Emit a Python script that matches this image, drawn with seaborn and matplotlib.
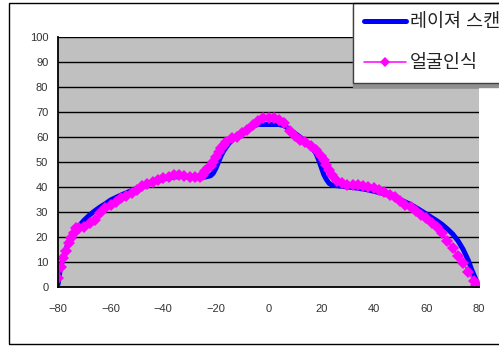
import matplotlib
matplotlib.use("Agg")
import matplotlib.pyplot as plt
import matplotlib.patches as mpatches
import seaborn as sns
import pandas as pd

# ---- data ----
laser_x = [-80, -79, -78, -77, -76, -74, -72, -70, -68, -66, -64, -62, -60, -58, -56, -54,
           -52, -50, -48, -46, -44, -42, -40, -38, -36, -34, -32, -30, -28, -26, -24, -22,
           -21, -20, -19, -18, -17, -16, -15, -14, -12, -10, -8, -6, -4, -2, 0, 2, 4, 6,
           8, 10, 12, 14, 16, 17, 18, 19, 20, 21, 22, 23, 24, 26, 28, 30, 32, 34, 36, 38,
           40, 42, 44, 46, 48, 50, 52, 54, 56, 58, 60, 62, 64, 66, 68, 70, 72, 74, 76, 77,
           78, 79, 80]
laser_y = [1, 8, 11.5, 15, 18, 21.5, 24.5, 26.8, 28.8, 30.5, 32, 33.3, 34.8, 35.8, 36.8, 37.7,
           38.6, 39.4, 40.2, 41, 41.8, 42.5, 43.2, 43.5, 44, 44.2, 44.2, 44, 43.8, 43.8, 44, 44.5,
           45.5, 47.5, 50, 52.5, 54.5, 56, 57.5, 58.5, 60.5, 62, 63.5, 64.3, 65, 65, 65, 65, 65, 64.5,
           63, 61.5, 60, 58, 56, 55, 53.5, 51, 48, 45, 43, 41.5, 40.8, 40.5, 40.3, 40, 39.8, 39.5, 39.2, 38.8,
           38.3, 37.8, 37.3, 36.6, 35.8, 35, 34, 33, 31.8, 30.5, 29.2, 27.8, 26.5, 25, 23.2, 21.2, 18.5, 15, 10.5, 7.5,
           5, 2.5, 0]

face_x = [-80, -79, -78, -77, -76, -75, -74, -73, -72, -70, -68, -66, -64, -62, -60, -58, -56,
          -54, -52, -50, -48, -46, -44, -42, -40, -38, -36, -34, -32, -30, -28, -26, -25, -24,
          -23, -22, -21, -20, -19, -18, -17, -16, -14, -12, -10, -8, -6, -4, -2, 0, 2, 4, 6, 8,
          10, 12, 14, 16, 18, 20, 21, 22, 23, 24, 26, 28, 30, 32, 34, 36, 38, 40, 42, 44, 46,
          48, 50, 52, 54, 56, 58, 60, 62, 64, 66, 68, 70, 72, 74, 76, 78, 79, 80]
face_y = [3.5, 8, 11.5, 14.5, 17.5, 19.5, 21.5, 23.5, 23.5, 24, 25.5, 27, 29.5, 31.5, 33, 34.2, 35.5,
          36.5, 37.8, 39, 40.5, 41.2, 42, 42.8, 43.8, 44.2, 44.8, 44.8, 44.3, 44, 44, 44.2, 45, 46.5,
          47.5, 48.5, 50, 52, 54, 55.5, 57, 58, 59.5, 60, 61.5, 63, 65, 66.5, 67.5, 67.5, 67.5, 67, 65.5, 62.5,
          60.5, 59, 58, 56.5, 55, 52.5, 51, 49, 47, 45, 42.5, 41.5, 41, 41, 40.8, 40.5, 40.2, 39.5, 38.8, 38, 37,
          36, 34.5, 33, 32, 30.5, 29, 27.5, 25.5, 24, 21.5, 18.5, 15.5, 12.5, 9.5, 6, 2.5, 1, 0]

x_ticks = [-80, -60, -40, -20, 0, 20, 40, 60, 80]
y_ticks = [0, 10, 20, 30, 40, 50, 60, 70, 80, 90, 100]
series_names = ["레이져 스캔", "얼굴인식"]

laser = pd.DataFrame({"x": laser_x, "y": laser_y})
face = pd.DataFrame({"x": face_x, "y": face_y})

sns.set_theme(style="white")
plt.rcParams["font.family"] = ["Liberation Sans", "Noto Sans CJK KR"]
plt.rcParams["axes.unicode_minus"] = True

fig = plt.figure(figsize=(4.99, 3.46), dpi=100)
fig.patch.set_facecolor("white")
ax = fig.add_axes([58 / 499, 1 - 287 / 346, (479 - 58) / 499, (287 - 37) / 346])
ax.set_facecolor("#C0C0C0")

for yt in y_ticks[1:]:
    ax.axhline(yt, color="black", lw=1.0, zorder=1)

sns.lineplot(data=laser, x="x", y="y", ax=ax, color="#0000FF", lw=3.6,
             sort=False, estimator=None, label=series_names[0], zorder=3)
sns.lineplot(data=face, x="x", y="y", ax=ax, color="#FF00FF", lw=1.3,
             marker="D", markersize=6, markeredgewidth=0, sort=False,
             estimator=None, label=series_names[1], zorder=4)

ax.set_xlim(-80, 80)
ax.set_ylim(0, 100)
ax.set_xticks(x_ticks)
ax.set_yticks(y_ticks)
ax.set_xlabel("")
ax.set_ylabel("")
for s in ["top", "right"]:
    ax.spines[s].set_visible(False)
for s in ["left", "bottom"]:
    ax.spines[s].set_color("black")
    ax.spines[s].set_linewidth(1.3)
    ax.spines[s].set_zorder(5)
ax.tick_params(axis="x", direction="in", length=4, width=1, color="black",
               pad=12, labelsize=8, labelcolor="#333333")
ax.tick_params(axis="y", length=0, pad=7, labelsize=8, labelcolor="#333333")

leg = ax.legend(loc="upper left", bbox_to_anchor=(353 / 499, 1 - 3 / 346),
                bbox_transform=fig.transFigure, borderaxespad=0, frameon=True,
                fancybox=False, shadow={"color": "#909090", "alpha": 1.0, "ox": 0, "oy": -3},
                prop={"size": 13.3}, handlelength=2.25, handletextpad=0.25,
                labelspacing=1.3, borderpad=0.6)
leg.get_frame().set_edgecolor("#404040")
leg.get_frame().set_linewidth(1.0)
leg.get_frame().set_facecolor("white")
for t in leg.get_texts():
    t.set_color("#222222")
for h in leg.legend_handles:
    if h.get_color() == "#FF00FF":
        h.set_markersize(5.5)
        h.set_linewidth(1.1)

border = mpatches.Rectangle((9 / 499, 1 - 344 / 346), 1.2, (344 - 3) / 346,
                            transform=fig.transFigure, fill=False,
                            edgecolor="black", lw=1.0, zorder=0)
fig.patches.append(border)

fig.savefig("out.png", dpi=100)
